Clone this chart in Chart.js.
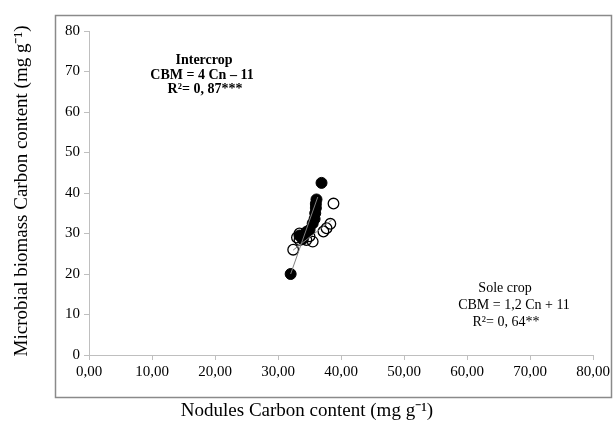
<!DOCTYPE html>
<html>
<head>
<meta charset="utf-8">
<script src="https://cdn.jsdelivr.net/npm/chart.js@4/dist/chart.umd.min.js"></script>
<style>
    html, body { margin: 0; padding: 0; background: #fff; }
    #wrap { width: 613px; height: 427px; }
</style>
</head>
<body>
<div id="wrap"><canvas id="scatter-chart" width="613" height="427"></canvas></div>
<script>
// values
const intercropX = [32.0, 33.4, 33.9, 34.5, 35.0, 35.5, 35.8, 35.9, 36.0, 36.0, 36.1, 36.9];
const intercropY = [20.0, 29.5, 28.6, 30.4, 30.9, 32.5, 33.6, 35.0, 36.3, 37.3, 38.4, 42.5];
const soleX = [32.4, 33.0, 33.4, 33.4, 34.0, 34.5, 35.0, 35.5, 37.2, 37.7, 38.3, 38.8];
const soleY = [26.0, 29.0, 30.0, 28.4, 29.6, 28.4, 29.3, 28.0, 30.5, 31.3, 32.4, 37.4];
const intercropLineX = [32.0, 36.3];
const intercropLineY = [20.0, 39.0];
const soleLineX = [32.4, 38.5];
const soleLineY = [25.9, 33.3];
const xTicks = [0, 10, 20, 30, 40, 50, 60, 70, 80];
const yTicks = [0, 10, 20, 30, 40, 50, 60, 70, 80];

const toPoints = (xs, ys) => xs.map((x, i) => ({ x, y: ys[i] }));
const serif = '"Liberation Serif", "Times New Roman", serif';

// frame, axis titles and equation notes
const decorPlugin = {
    id: 'decor',
    afterDraw(chart) {
        const c = chart.ctx;
        c.save();
        c.strokeStyle = '#8a8a8a';
        c.lineWidth = 1.5;
        c.strokeRect(55.5, 15.5, 556, 382);

        c.fillStyle = '#000';
        c.textAlign = 'center';
        c.textBaseline = 'middle';

        c.font = '19px ' + serif;
        c.fillText('Nodules Carbon content (mg g\u207B\u00B9)', 307, 411);
        c.save();
        c.translate(22, 191);
        c.rotate(-Math.PI / 2);
        c.fillText('Microbial biomass Carbon content (mg g\u207B\u00B9)', 0, 0);
        c.restore();

        c.font = 'bold 14px ' + serif;
        c.fillText('Intercrop', 204, 60);
        c.fillText('CBM = 4 Cn \u2013 11', 202, 75);
        c.fillText('R\u00B2= 0, 87***', 205, 89);

        c.font = '14px ' + serif;
        c.fillText('Sole crop', 505, 288);
        c.fillText('CBM = 1,2 Cn + 11', 514, 305);
        c.fillText('R\u00B2= 0, 64**', 506, 322);
        c.restore();
    }
};

const ctx = document.getElementById('scatter-chart');
new Chart(ctx, {
    type: 'scatter',
    data: {
        datasets: [
            {
                type: 'line',
                data: toPoints(intercropLineX, intercropLineY),
                borderColor: '#808080',
                borderWidth: 1,
                pointRadius: 0,
                fill: false
            },
            {
                type: 'line',
                data: toPoints(soleLineX, soleLineY),
                borderColor: '#808080',
                borderWidth: 1,
                pointRadius: 0,
                fill: false
            },
            {
                label: 'Intercrop',
                data: toPoints(intercropX, intercropY),
                pointRadius: 5.5,
                pointBackgroundColor: '#000',
                pointBorderColor: '#000',
                pointBorderWidth: 1
            },
            {
                label: 'Sole crop',
                data: toPoints(soleX, soleY),
                pointRadius: 5.3,
                pointBackgroundColor: 'rgba(0,0,0,0)',
                pointBorderColor: '#000',
                pointBorderWidth: 1.3
            }
        ]
    },
    options: {
        responsive: false,
        animation: false,
        layout: { padding: { left: 0, right: 19, top: 31, bottom: 0 } },
        plugins: {
            legend: { display: false },
            tooltip: { enabled: false }
        },
        scales: {
            x: {
                type: 'linear',
                min: 0,
                max: 80,
                afterBuildTicks: (scale) => { scale.ticks = xTicks.map(v => ({ value: v })); },
                afterFit: (scale) => { scale.height = 72; },
                grid: { drawOnChartArea: false, color: '#bfbfbf', tickLength: 5 },
                border: { color: '#bfbfbf' },
                ticks: {
                    color: '#000',
                    font: { family: serif, size: 15 },
                    padding: 3,
                    maxRotation: 0,
                    callback: (v) => v.toFixed(2).replace('.', ',')
                }
            },
            y: {
                type: 'linear',
                min: 0,
                max: 80,
                afterBuildTicks: (scale) => { scale.ticks = yTicks.map(v => ({ value: v })); },
                afterFit: (scale) => { scale.width = 89; },
                grid: { drawOnChartArea: false, color: '#bfbfbf', tickLength: 5 },
                border: { color: '#bfbfbf' },
                ticks: {
                    color: '#000',
                    font: { family: serif, size: 15 },
                    padding: 4
                }
            }
        }
    },
    plugins: [decorPlugin]
});
</script>
</body>
</html>
